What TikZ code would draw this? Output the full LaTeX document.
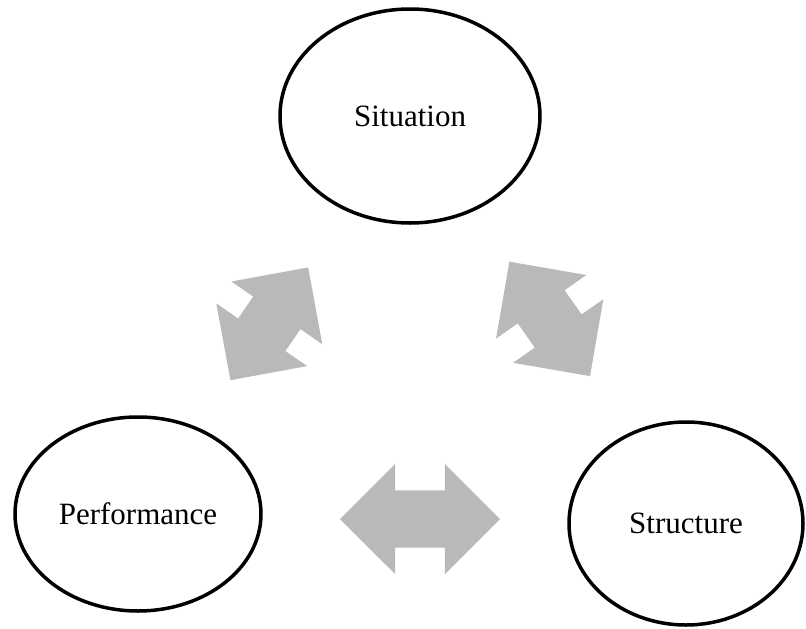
\documentclass[tikz,border=0pt]{standalone}
\usepackage{fontspec}
\setmainfont{Liberation Serif}
\usepackage{tikz}
\usetikzlibrary{shapes.geometric, shapes.arrows}
\definecolor{arrowgray}{RGB}{185,185,185}
\tikzset{
  circ/.style={ellipse, draw=black, line width=3.5pt, font=\fontsize{31}{36}\selectfont},
  link/.style={double arrow, fill=arrowgray, draw=none, inner xsep=0pt, inner ysep=28.5pt, minimum width=110pt, double arrow head extend=26.5pt}
}

\begin{document}
\begin{tikzpicture}[x=1pt, y=-1pt]
  \useasboundingbox (0,0) rectangle (806,629);
      \node (sit) at (410,116)[circ, minimum width=260pt, minimum height=214pt] {Situation};
      \node (perf) at (138,514)[circ, minimum width=246pt, minimum height=194pt] {Performance};
      \node (struc) at (686,523.5)[circ, minimum width=234pt, minimum height=203pt] {Structure};
      \node (a1) at (269.3,323.8)[link, minimum height=137pt, rotate=55.4] {};
      \node (a2) at (549.7,318.9)[link, minimum height=140pt, rotate=-54.8] {};
      \node (a3) at (420,519)[link, minimum height=160pt] {};
\end{tikzpicture}
\end{document}
